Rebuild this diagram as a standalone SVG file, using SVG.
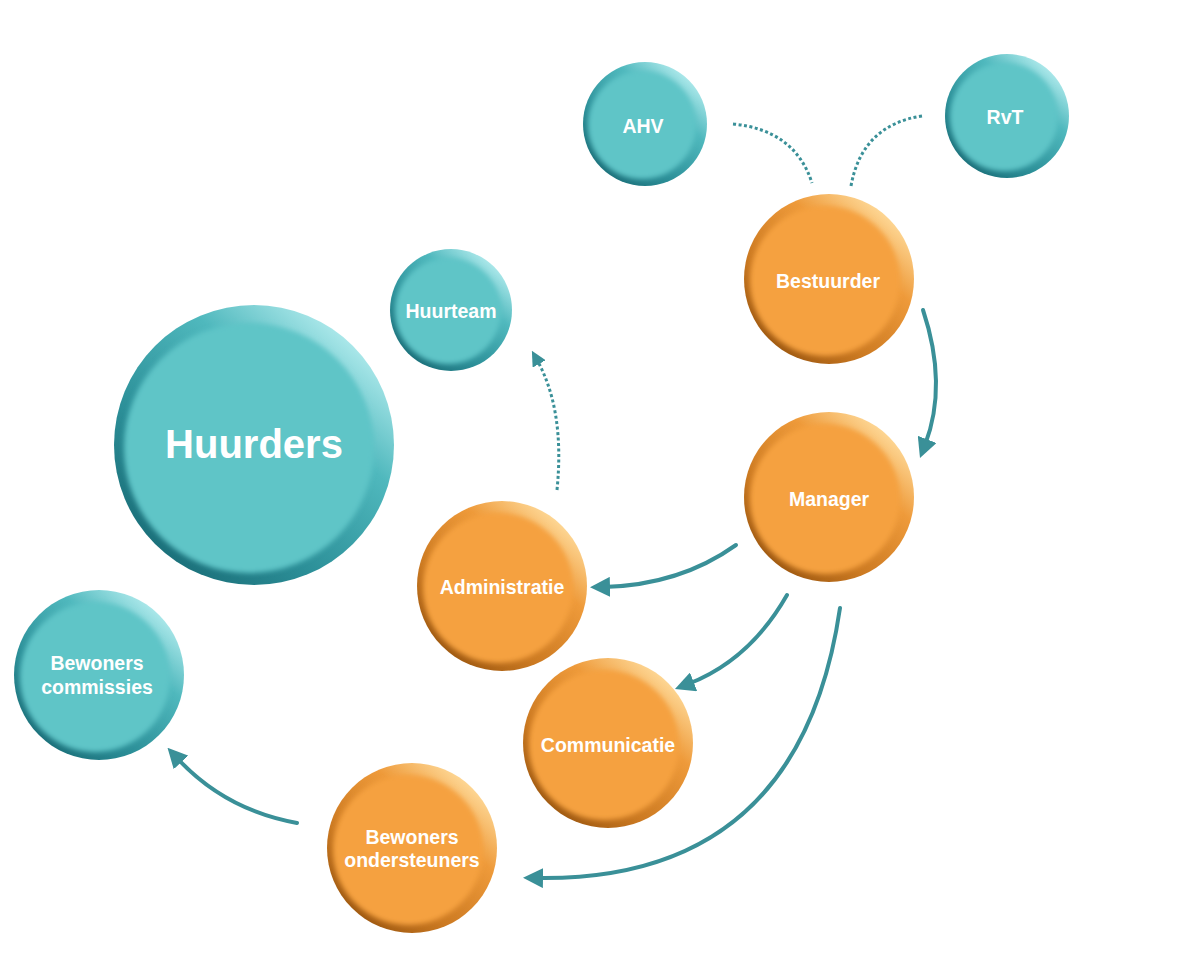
<svg xmlns="http://www.w3.org/2000/svg" width="1193" height="954" viewBox="0 0 1193 954">
<defs>
<linearGradient id="tealRim" x1="0.85" y1="0.1" x2="0.15" y2="0.9">
<stop offset="0" stop-color="#b3ecee"/>
<stop offset="0.3" stop-color="#4fb8bd"/>
<stop offset="0.7" stop-color="#2c8f98"/>
<stop offset="1" stop-color="#1a6e78"/>
</linearGradient>
<linearGradient id="orRim" x1="0.85" y1="0.1" x2="0.15" y2="0.9">
<stop offset="0" stop-color="#ffdc9c"/>
<stop offset="0.3" stop-color="#ee9a3a"/>
<stop offset="0.7" stop-color="#cc7a22"/>
<stop offset="1" stop-color="#9c5710"/>
</linearGradient>
<filter id="soft" x="-20%" y="-20%" width="140%" height="140%">
<feGaussianBlur stdDeviation="2.5"/>
</filter>
<marker id="arr" viewBox="0 0 10 10" refX="3" refY="5" markerWidth="5" markerHeight="5" orient="auto" markerUnits="strokeWidth">
<path d="M0,0 L10,5 L0,10 Z" fill="#3a9098"/>
</marker>
<style>
.teal-out{fill:url(#tealRim)}
.teal-in{fill:#5fc5c7;filter:url(#soft)}
.or-out{fill:url(#orRim)}
.or-in{fill:#f5a13f;filter:url(#soft)}
.lbl{font-family:"Liberation Sans",Arial,sans-serif;font-weight:bold;fill:#ffffff;text-anchor:middle;font-size:19.5px}
.big{font-size:40px}
.con{fill:none;stroke:#3a9098;stroke-width:4;stroke-linecap:round}
.dash{stroke-width:3;stroke-dasharray:3 2.5;stroke-linecap:butt}
</style>
</defs>
<rect width="1193" height="954" fill="#ffffff"/>

<g id="connectors">
<path class="con dash" d="M733,124 Q795,130 812,183"/>
<path class="con dash" d="M922,116 Q862,125 851,186"/>
<path class="con" d="M923,310 Q948,385 925,445" marker-end="url(#arr)"/>
<path class="con" d="M736,545 Q680,585 604,587" marker-end="url(#arr)"/>
<path class="con" d="M787,595 Q750,660 688,684" marker-end="url(#arr)"/>
<path class="con" d="M840,608 Q800,882 537,878" marker-end="url(#arr)"/>
<path class="con dash" d="M557,490 Q565,410 537,360" marker-end="url(#arr)"/>
<path class="con" d="M297,823 Q225,810 177,758" marker-end="url(#arr)"/>
</g>

<g id="ahv">
<circle class="teal-out" cx="645" cy="124" r="62"/>
<circle class="teal-in" cx="642" cy="125" r="54"/>
<text class="lbl" x="643" y="133">AHV</text>
</g>
<g id="rvt">
<circle class="teal-out" cx="1007" cy="116" r="62"/>
<circle class="teal-in" cx="1004" cy="117" r="54"/>
<text class="lbl" x="1005" y="124">RvT</text>
</g>
<g id="bestuurder">
<circle class="or-out" cx="829" cy="279" r="85"/>
<circle class="or-in" cx="825" cy="281" r="75"/>
<text class="lbl" x="828" y="288">Bestuurder</text>
</g>
<g id="huurteam">
<circle class="teal-out" cx="451" cy="310" r="61"/>
<circle class="teal-in" cx="448" cy="311" r="53"/>
<text class="lbl" x="451" y="318">Huurteam</text>
</g>
<g id="huurders">
<circle class="teal-out" cx="254" cy="445" r="140"/>
<circle class="teal-in" cx="249" cy="448" r="125"/>
<text class="lbl big" x="254" y="458">Huurders</text>
</g>
<g id="manager">
<circle class="or-out" cx="829" cy="497" r="85"/>
<circle class="or-in" cx="825" cy="499" r="75"/>
<text class="lbl" x="829" y="506">Manager</text>
</g>
<g id="administratie">
<circle class="or-out" cx="502" cy="586" r="85"/>
<circle class="or-in" cx="498" cy="588" r="75"/>
<text class="lbl" x="502" y="594">Administratie</text>
</g>
<g id="communicatie">
<circle class="or-out" cx="608" cy="743" r="85"/>
<circle class="or-in" cx="604" cy="745" r="75"/>
<text class="lbl" x="608" y="752">Communicatie</text>
</g>
<g id="bewoners-commissies">
<circle class="teal-out" cx="99" cy="675" r="85"/>
<circle class="teal-in" cx="95" cy="677" r="75"/>
<text class="lbl" x="97" y="670">Bewoners</text>
<text class="lbl" x="97" y="694">commissies</text>
</g>
<g id="bewoners-ondersteuners">
<circle class="or-out" cx="412" cy="848" r="85"/>
<circle class="or-in" cx="408" cy="850" r="75"/>
<text class="lbl" x="412" y="844">Bewoners</text>
<text class="lbl" x="412" y="867">ondersteuners</text>
</g>
</svg>
